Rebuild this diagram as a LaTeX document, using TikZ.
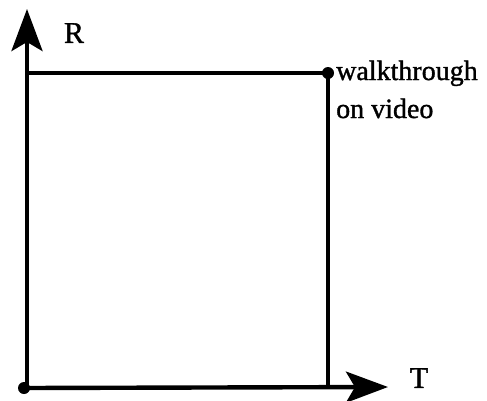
\documentclass[tikz,border=0pt]{standalone}
\usepackage{fontspec}
\newfontfamily\timesfont[FakeBold=1.2]{Liberation Serif}
\usetikzlibrary{arrows.meta}
\begin{document}
\begin{tikzpicture}[x=1pt,y=-1pt,
  axis/.style={line width=4.4pt,-{Stealth[length=42pt,width=31pt,inset=9pt]}},
  boxline/.style={line width=3.6pt,line join=miter},
  dotmark/.style={circle,fill=black,inner sep=0pt,minimum size=12pt},
  lbl/.style={font=\timesfont\fontsize{28}{34}\selectfont,inner sep=0pt},
  axlbl/.style={font=\timesfont\fontsize{30}{34}\selectfont,inner sep=0pt}]
\useasboundingbox (0,0) rectangle (487,400);
\coordinate (O) at (27,387);
\coordinate (Rtip) at (27,9);
\coordinate (Ttip) at (388,387);
\coordinate (TL) at (27,73);
\coordinate (BR) at (328,387);
\node[dotmark] (P0) at (24,388) {};
\node[dotmark] (P1) at (328,73) {};
\draw[axis] (O) -- (Rtip);
\draw[axis] (P0.center) -- (Ttip);
\draw[boxline] (TL) -- (P1.center) -- (BR);
\node[axlbl] (R) at (74,33) {R};
\node[axlbl] (T) at (419,378) {T};
\node[lbl,anchor=base west] (w1) at (336,80) {walkthrough};
\node[lbl,anchor=base west] (w2) at (336,118) {on video};
\end{tikzpicture}
\end{document}
